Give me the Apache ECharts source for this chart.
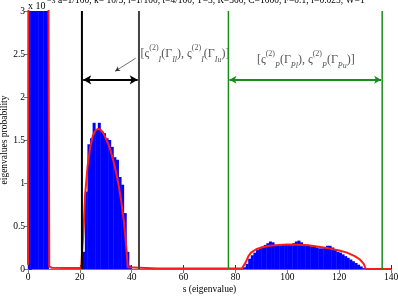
<!DOCTYPE html>
<html>
<head>
<meta charset="utf-8">
<script src="https://cdn.jsdelivr.net/npm/echarts@6/dist/echarts.min.js"></script>
<style>
  html, body { margin: 0; background: #fff; }
  #chart { width: 398px; height: 303px; }
</style>
</head>
<body>
<div id="chart"></div>
<script>
// histogram (x 10^-3), bin left edges and heights
const histBins = [0, 1, 2, 3, 4, 5, 6, 7,
  21, 22, 23, 24, 25, 26, 27, 28, 29, 30, 31, 32, 33, 34, 35, 36, 37, 38, 39,
  83, 84, 85, 86, 87, 88, 89, 90, 91, 92, 93, 94, 95, 96, 97, 98, 99, 100,
  101, 102, 103, 104, 105, 106, 107, 108, 109, 110, 111, 112, 113, 114, 115,
  116, 117, 118, 119, 120, 121, 122, 123, 124, 125, 126, 127, 128, 129];
const histProb = [12, 12, 12, 12, 12, 12, 12, 12,
  0.2, 0.9, 1.45, 1.52, 1.7, 1.62, 1.7, 1.6, 1.58, 1.52, 1.5, 1.42, 1.3, 1.27, 1.07, 0.98, 0.65, 0.2, 0.04,
  0.02, 0.06, 0.12, 0.16, 0.19, 0.22, 0.24, 0.26, 0.28, 0.3, 0.32, 0.31, 0.28, 0.27, 0.27, 0.28, 0.28, 0.28,
  0.29, 0.3, 0.32, 0.33, 0.31, 0.29, 0.28, 0.27, 0.26, 0.26, 0.25, 0.24, 0.24, 0.25, 0.27,
  0.27, 0.25, 0.22, 0.2, 0.19, 0.17, 0.15, 0.13, 0.11, 0.09, 0.07, 0.05, 0.03, 0.01];

// theoretical density (red curve)
const fitS = [0, 0.3, 7.7, 8.2, 9, 15, 20.5,
  21, 21.5, 22, 23, 24, 25, 26, 27, 28, 29, 30, 31, 32, 33, 34, 35, 36, 37, 38, 38.5, 39,
  50, 70, 82.5,
  83, 84, 85, 86, 88, 90, 93, 97, 100, 104, 108, 112, 116, 120, 123, 126, 128, 129.5, 130.3, 131, 140];
const fitP = [0.05, 5, 5, 0.03, 0.015, 0.012, 0.012,
  0, 0.5, 0.85, 1.2, 1.42, 1.55, 1.61, 1.63, 1.62, 1.58, 1.52, 1.45, 1.36, 1.25, 1.12, 0.97, 0.78, 0.55, 0.22, 0.02, 0.01,
  0.005, 0.005, 0.005,
  0, 0.08, 0.15, 0.19, 0.23, 0.25, 0.27, 0.28, 0.285, 0.283, 0.275, 0.26, 0.24, 0.215, 0.19, 0.15, 0.11, 0.06, 0, 0, 0];

// interval bounds
const boundI = [20.8, 42.8];
const boundP = [77.3, 136.6];
const arrowLevel = 2.2;

const titleText = "a=1/100, k= 10/3, l=1/100, t=4/100, T=3, R=300, C=1000, F=0.1, f=0.025, W=1";

const serif = "'Liberation Serif', 'DejaVu Serif', serif";
const chart = echarts.init(document.getElementById("chart"));

const vline = (x, color, width) => ({
  type: "line",
  data: [[x, 0], [x, 3]],
  showSymbol: false,
  silent: true,
  lineStyle: { color: color, width: width },
  z: 4
});

const richStyle = {
  m: { fontFamily: serif, fontSize: 12, fill: "#555", lineHeight: 20 },
  sup: { fontFamily: serif, fontSize: 8, fill: "#555", verticalAlign: "top", lineHeight: 20 },
  sub: { fontFamily: serif, fontSize: 8, fontStyle: "italic", fill: "#555", verticalAlign: "bottom", lineHeight: 20 }
};

chart.setOption({
  animation: false,
  grid: { left: 28, right: 7, top: 11, bottom: 34, outerBoundsMode: "none", containLabel: false },
  xAxis: [{
    type: "value", min: 0, max: 140, interval: 20,
    name: "s (eigenvalue)", nameLocation: "middle", nameGap: 15, nameMoveOverlap: false,
    nameTextStyle: { fontFamily: serif, fontSize: 9.5, color: "#000" },
    axisLine: { lineStyle: { color: "#333", width: 1 } },
    axisTick: { inside: true, length: 4, lineStyle: { color: "#333" } },
    axisLabel: { fontFamily: serif, fontSize: 9.5, color: "#000", margin: 3 },
    splitLine: { show: false }
  }, {
    type: "value", min: 0, max: 140, interval: 20, position: "top",
    axisLine: { show: true, lineStyle: { color: "#777" } },
    axisTick: { inside: true, length: 4, lineStyle: { color: "#777" } },
    axisLabel: { show: false }, splitLine: { show: false }
  }],
  yAxis: [{
    type: "value", min: 0, max: 3, interval: 0.5,
    name: "eigenvalues probability", nameLocation: "middle", nameGap: 19, nameMoveOverlap: false,
    nameTextStyle: { fontFamily: serif, fontSize: 9.5, color: "#000" },
    axisLine: { show: true, lineStyle: { color: "#333" } },
    axisTick: { show: true, inside: true, length: 4, lineStyle: { color: "#333" } },
    axisLabel: { fontFamily: serif, fontSize: 9.5, color: "#000", margin: 3 },
    splitLine: { show: false }
  }, {
    type: "value", min: 0, max: 3, interval: 0.5, position: "right",
    axisLine: { show: true, lineStyle: { color: "#777" } },
    axisTick: { show: true, inside: true, length: 4, lineStyle: { color: "#777" } },
    axisLabel: { show: false }, splitLine: { show: false }
  }],
  series: [
    {
      type: "bar",
      data: histBins.map((s, i) => [s + 0.5, histProb[i]]),
      barWidth: 3,
      itemStyle: { color: "#0000ff" },
      silent: true,
      clip: true,
      z: 2
    },
    {
      type: "line",
      data: fitS.map((s, i) => [s, fitP[i]]),
      showSymbol: false,
      silent: true,
      clip: true,
      lineStyle: { color: "#ff1a1a", width: 2 },
      z: 3
    },
    vline(boundI[0], "#000", 2),
    vline(boundI[1], "#444", 2),
    vline(boundP[0], "#1a8c1a", 1.5),
    Object.assign(vline(boundP[1], "#1a8c1a", 1.5), {
      markLine: {
        silent: true,
        label: { show: false },
        data: [
          [{ coord: [boundI[0] + 0.5, arrowLevel], symbol: "arrow", symbolSize: [7, 8], lineStyle: { color: "#000", width: 2, type: "solid" } },
           { coord: [boundI[1] - 0.5, arrowLevel], symbol: "arrow", symbolSize: [7, 8] }],
          [{ coord: [boundP[0] + 0.4, arrowLevel], symbol: "arrow", symbolSize: [6, 7], lineStyle: { color: "#1a8c1a", width: 2, type: "solid" } },
           { coord: [boundP[1] - 0.4, arrowLevel], symbol: "arrow", symbolSize: [6, 7] }],
          [{ coord: [41.5, 2.45], symbol: "none", lineStyle: { color: "#333", width: 0.7, type: "solid" } },
           { coord: [33.6, 2.3], symbol: "arrow", symbolSize: [4, 5] }]
        ]
      }
    })
  ]
});

const p1 = chart.convertToPixel({ gridIndex: 0 }, [43.4, 2.5]);
const p2 = chart.convertToPixel({ gridIndex: 0 }, [88.3, 2.43]);

chart.setOption({
  graphic: [
    {
      type: "text", left: 28, top: 1,
      style: { text: "x 10", fontFamily: serif, fontSize: 10, fill: "#000" }
    },
    {
      type: "text", left: 47, top: -3,
      style: { text: "\u22123", fontFamily: serif, fontSize: 8, fill: "#000" }
    },
    {
      type: "text", left: 58, top: -5,
      style: { text: titleText, fontFamily: serif, fontSize: 9.5, fill: "#000" }
    },
    {
      type: "text", x: p1[0], y: p1[1],
      style: {
        text: "{m|[ς}{sup|(2)}{sub|I}{m|(Γ}{sub|Il}{m|), ς}{sup|(2)}{sub|I}{m|(Γ}{sub|Iu}{m|)]}",
        rich: richStyle, verticalAlign: "middle"
      }
    },
    {
      type: "text", x: p2[0], y: p2[1],
      style: {
        text: "{m|[ς}{sup|(2)}{sub|P}{m|(Γ}{sub|Pl}{m|), ς}{sup|(2)}{sub|P}{m|(Γ}{sub|Pu}{m|)]}",
        rich: richStyle, verticalAlign: "middle"
      }
    }
  ]
});
</script>
</body>
</html>
